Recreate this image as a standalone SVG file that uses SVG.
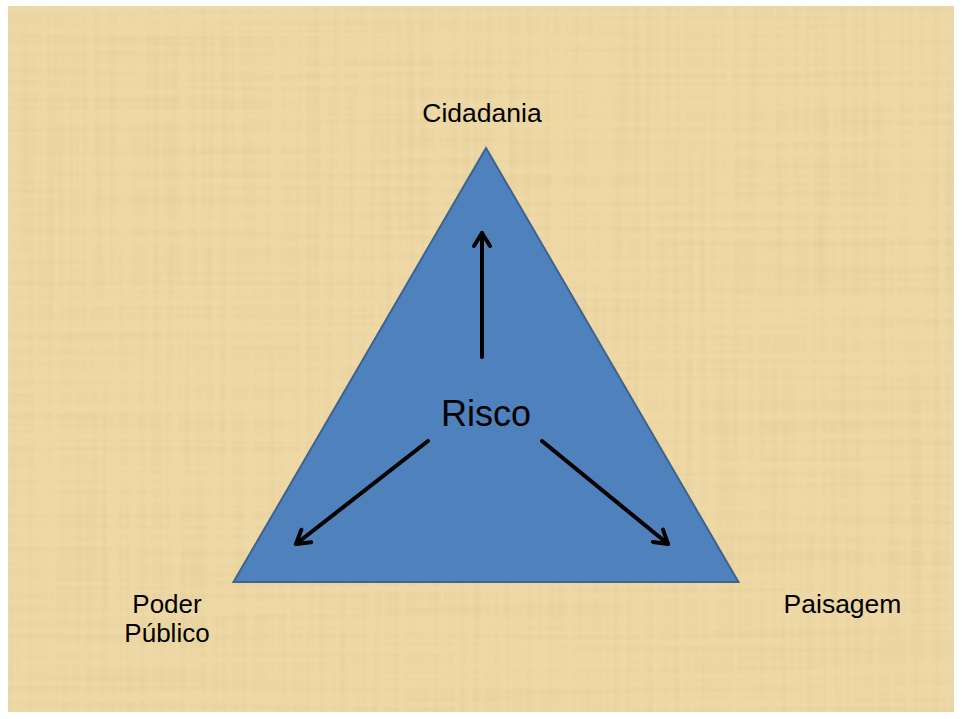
<svg xmlns="http://www.w3.org/2000/svg" width="962" height="719" viewBox="0 0 962 719">
  <style>
    .lbl { font-family: "Liberation Sans", Arial, sans-serif; fill: #000000; text-anchor: middle; }
    .arrow { stroke: #000000; stroke-width: 4; fill: none; stroke-linecap: round; marker-end: url(#head); }
  </style>
  <defs>
    <marker id="head" markerUnits="userSpaceOnUse" viewBox="-16 -10 20 20" markerWidth="20" markerHeight="20" refX="0" refY="0" orient="auto">
      <path d="M -13 -8 L 0 0 L -13 8" fill="none" stroke="#000000" stroke-width="4" stroke-linecap="round" stroke-linejoin="round"/>
    </marker>
    <filter id="papyrus" x="0" y="0" width="100%" height="100%">
      <feTurbulence type="fractalNoise" baseFrequency="0.003 0.15" numOctaves="2" seed="3" result="h"/>
      <feTurbulence type="fractalNoise" baseFrequency="0.15 0.003" numOctaves="2" seed="7" result="v"/>
      <feComposite in="h" in2="v" operator="arithmetic" k2="0.5" k3="0.5" result="n"/>
      <feColorMatrix in="n" type="matrix" values="0 0 0 0 0.6  0 0 0 0 0.48  0 0 0 0 0.2  0 0 0 -1.8 1.0"/>
    </filter>
  </defs>
  <rect x="0" y="0" width="962" height="719" fill="#ffffff"/>
  <g id="background">
    <rect x="8" y="6" width="946" height="706" fill="#EDD8A6"/>
    <rect x="8" y="6" width="946" height="706" filter="url(#papyrus)" opacity="0.35"/>
  </g>
  <g id="triangle">
    <polygon points="486,148 233.5,582 738.5,582" fill="#4F81BD" stroke="#3D6491" stroke-width="2" stroke-linejoin="miter"/>
  </g>
  <g id="connectors">
    <line class="arrow" x1="482" y1="357" x2="482" y2="233"/>
    <line class="arrow" x1="428" y1="441" x2="296" y2="544"/>
    <line class="arrow" x1="542" y1="441" x2="668" y2="544"/>
  </g>
  <g id="risco">
    <text class="lbl" x="486" y="426" font-size="36">Risco</text>
  </g>
  <g id="cidadania">
    <text class="lbl" x="482" y="122" font-size="26.5">Cidadania</text>
  </g>
  <g id="poder-publico">
    <text class="lbl" x="167" y="613" font-size="26">Poder</text>
    <text class="lbl" x="167" y="642" font-size="26">Público</text>
  </g>
  <g id="paisagem">
    <text class="lbl" x="842.5" y="613" font-size="26.5">Paisagem</text>
  </g>
</svg>
